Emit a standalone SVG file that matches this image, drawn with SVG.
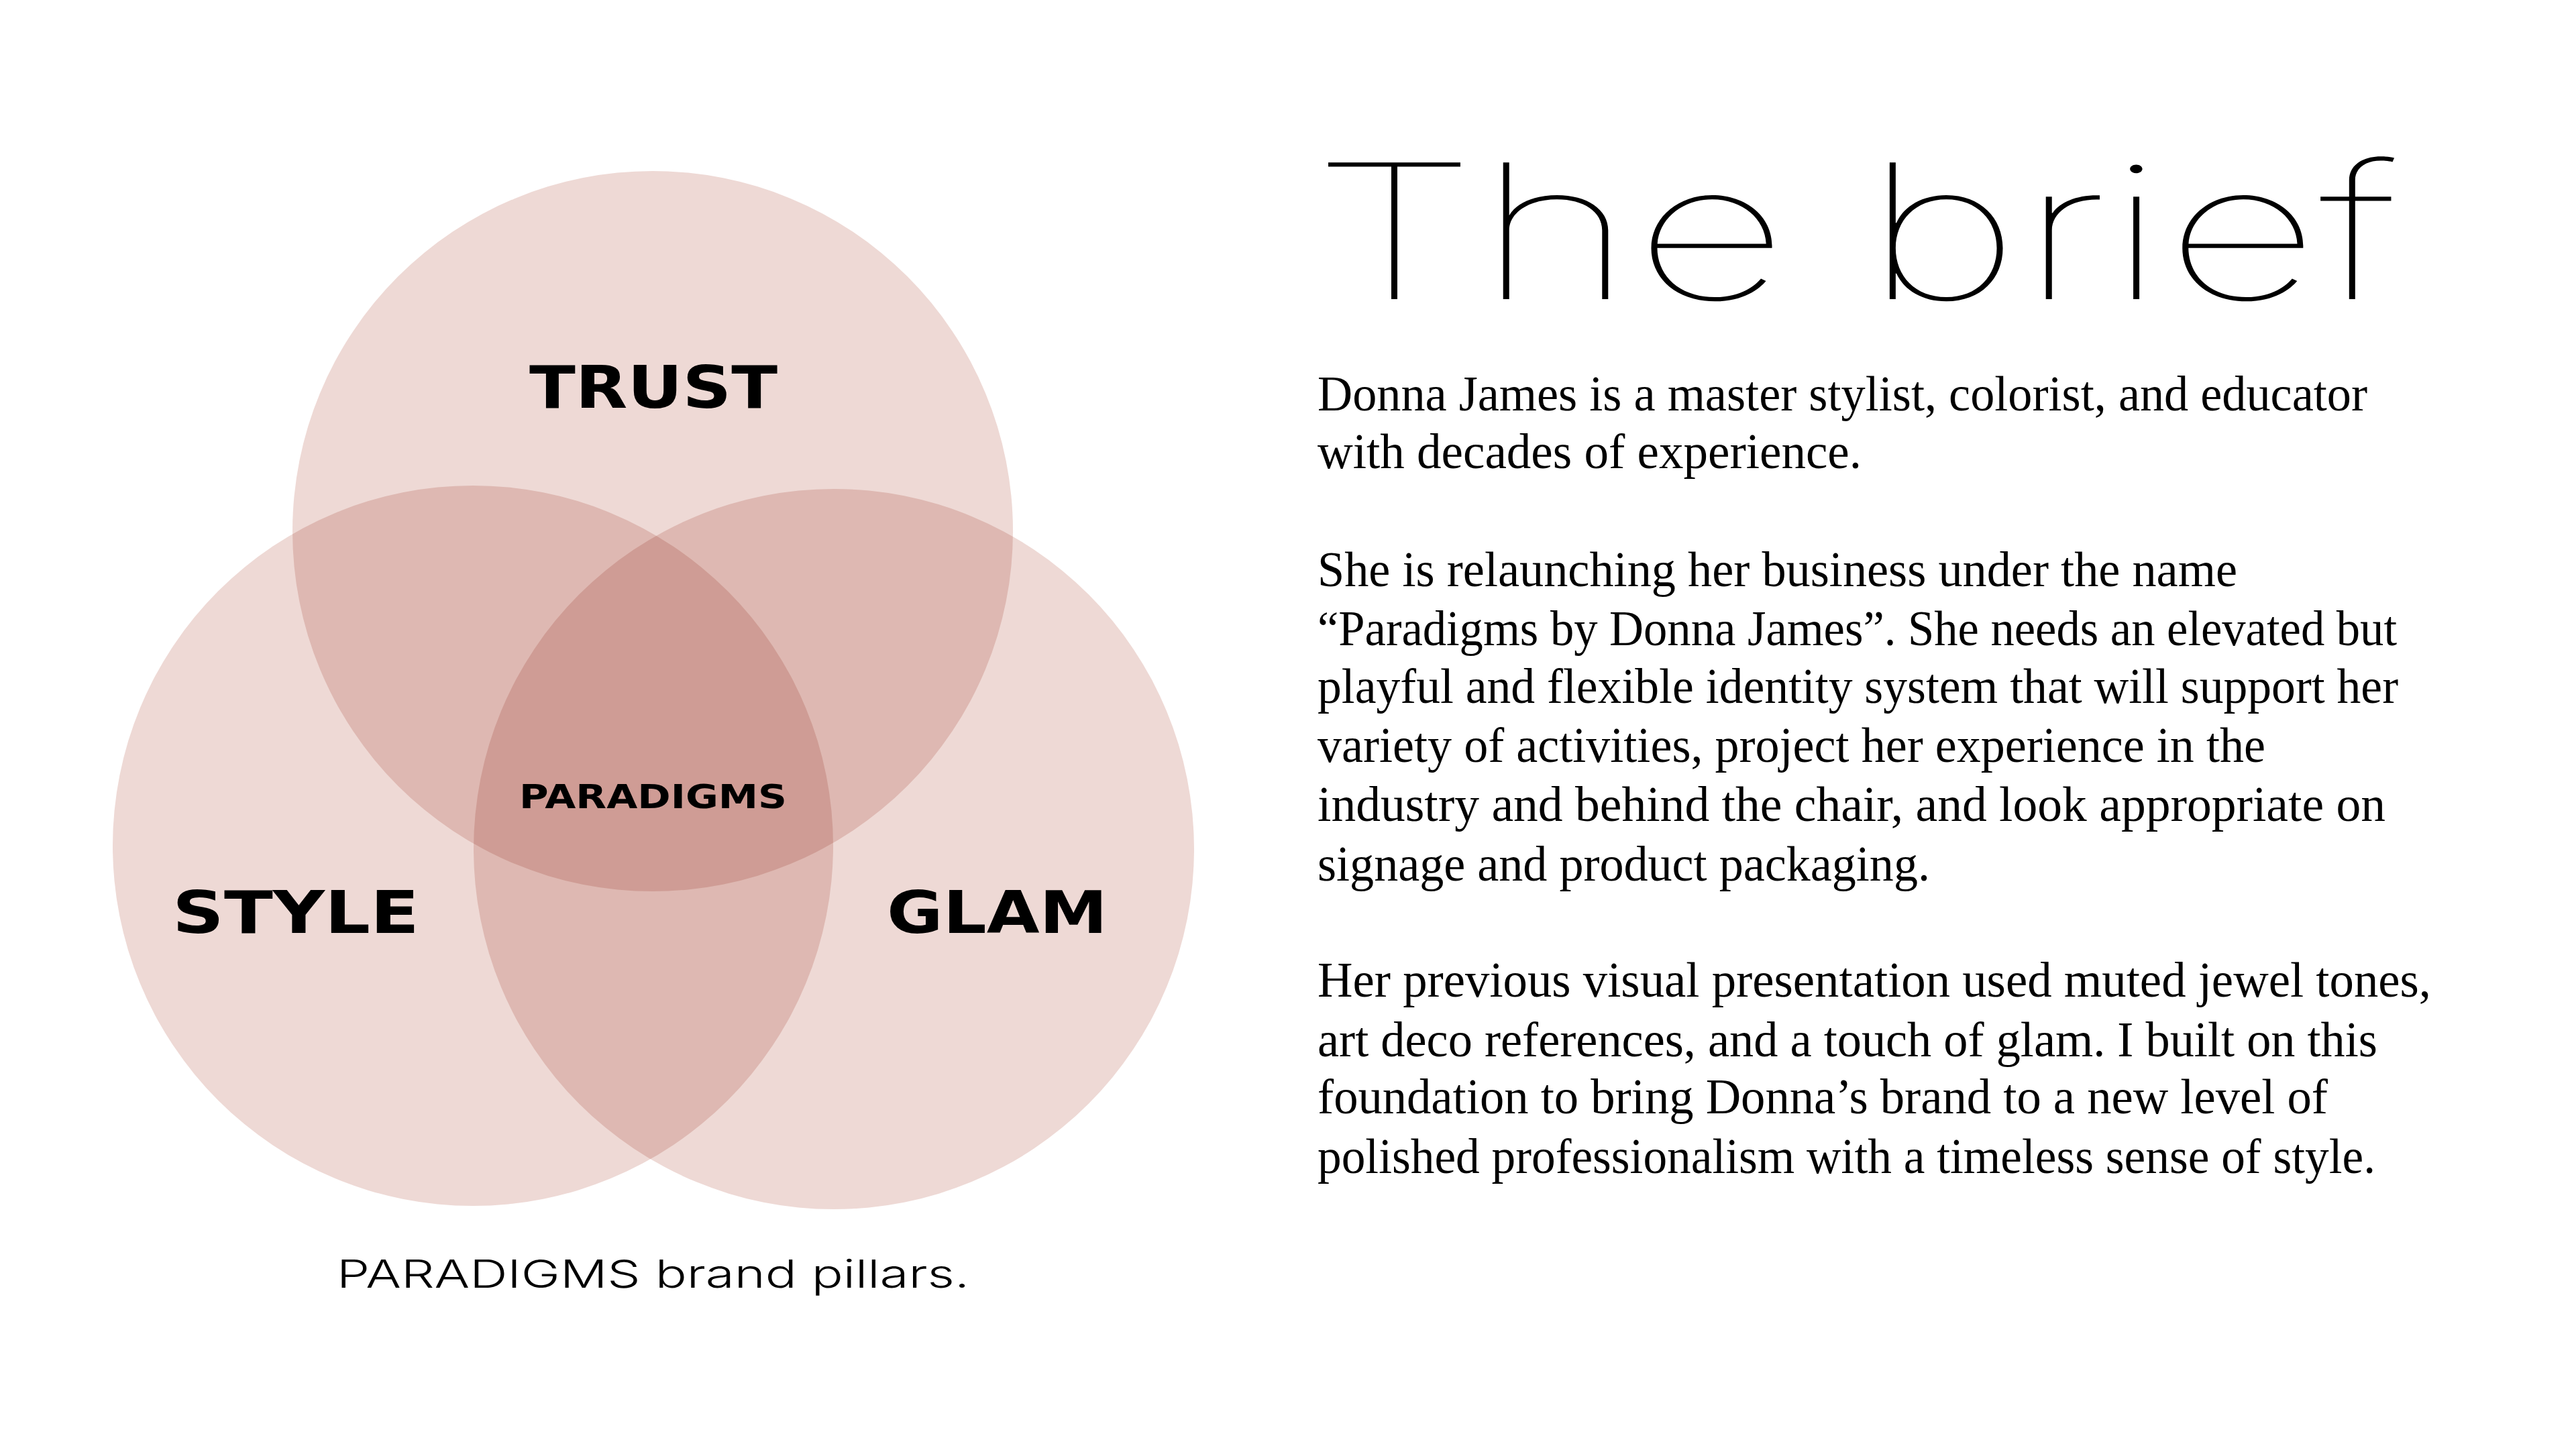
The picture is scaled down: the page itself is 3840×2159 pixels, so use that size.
<svg xmlns="http://www.w3.org/2000/svg" width="3840" height="2159" viewBox="0 0 3840 2159">
<style>
.c{fill:#EED9D5;mix-blend-mode:multiply}
.lbl{font-family:"DejaVu Sans",sans-serif;font-weight:bold;fill:#000}
.cap{font-family:"Inter","Lato",sans-serif;font-weight:300;fill:#000}
.title{font-family:"Inter","Lato",sans-serif;font-weight:100;fill:#000}
.body{font-family:"Liberation Serif",serif;font-size:74px;fill:#000}
</style>
<rect width="3840" height="2159" fill="#fff"/>
<g id="venn">
<g id="trust"><circle class="c" cx="973" cy="792" r="537"/></g>
<g id="style"><circle class="c" cx="705" cy="1261" r="537"/></g>
<g id="glam"><circle class="c" cx="1243" cy="1266" r="537"/></g>
</g>
<g id="labels">
<text class="lbl" x="789" y="608" font-size="88" textLength="370" lengthAdjust="spacingAndGlyphs">TRUST</text>
<text class="lbl" x="257" y="1391" font-size="88" textLength="368" lengthAdjust="spacingAndGlyphs">STYLE</text>
<text class="lbl" x="1322" y="1391" font-size="88" textLength="329" lengthAdjust="spacingAndGlyphs">GLAM</text>
<text class="lbl" x="774" y="1205" font-size="50" textLength="399" lengthAdjust="spacingAndGlyphs">PARADIGMS</text>
</g>
<text id="caption" class="cap" x="502" y="1920" font-size="58" textLength="943" lengthAdjust="spacingAndGlyphs">PARADIGMS brand pillars.</text>
<text id="title" class="title" x="1955" y="446" font-size="280" textLength="1620" lengthAdjust="spacingAndGlyphs">The brief</text>
<g id="brief" class="body">
<text x="1964" y="612" textLength="1565" lengthAdjust="spacingAndGlyphs">Donna James is a master stylist, colorist, and educator</text>
<text x="1964" y="698" textLength="811" lengthAdjust="spacingAndGlyphs">with decades of experience.</text>
<text x="1964" y="874" textLength="1371" lengthAdjust="spacingAndGlyphs">She is relaunching her business under the name</text>
<text x="1964" y="962" textLength="1609" lengthAdjust="spacingAndGlyphs">“Paradigms by Donna James”. She needs an elevated but</text>
<text x="1964" y="1048" textLength="1611" lengthAdjust="spacingAndGlyphs">playful and flexible identity system that will support her</text>
<text x="1964" y="1136" textLength="1413" lengthAdjust="spacingAndGlyphs">variety of activities, project her experience in the</text>
<text x="1964" y="1224" textLength="1592" lengthAdjust="spacingAndGlyphs">industry and behind the chair, and look appropriate on</text>
<text x="1964" y="1313" textLength="913" lengthAdjust="spacingAndGlyphs">signage and product packaging.</text>
<text x="1964" y="1486" textLength="1660" lengthAdjust="spacingAndGlyphs">Her previous visual presentation used muted jewel tones,</text>
<text x="1964" y="1575" textLength="1580" lengthAdjust="spacingAndGlyphs">art deco references, and a touch of glam. I built on this</text>
<text x="1964" y="1660" textLength="1506" lengthAdjust="spacingAndGlyphs">foundation to bring Donna’s brand to a new level of</text>
<text x="1964" y="1749" textLength="1577" lengthAdjust="spacingAndGlyphs">polished professionalism with a timeless sense of style.</text>
</g>
</svg>
